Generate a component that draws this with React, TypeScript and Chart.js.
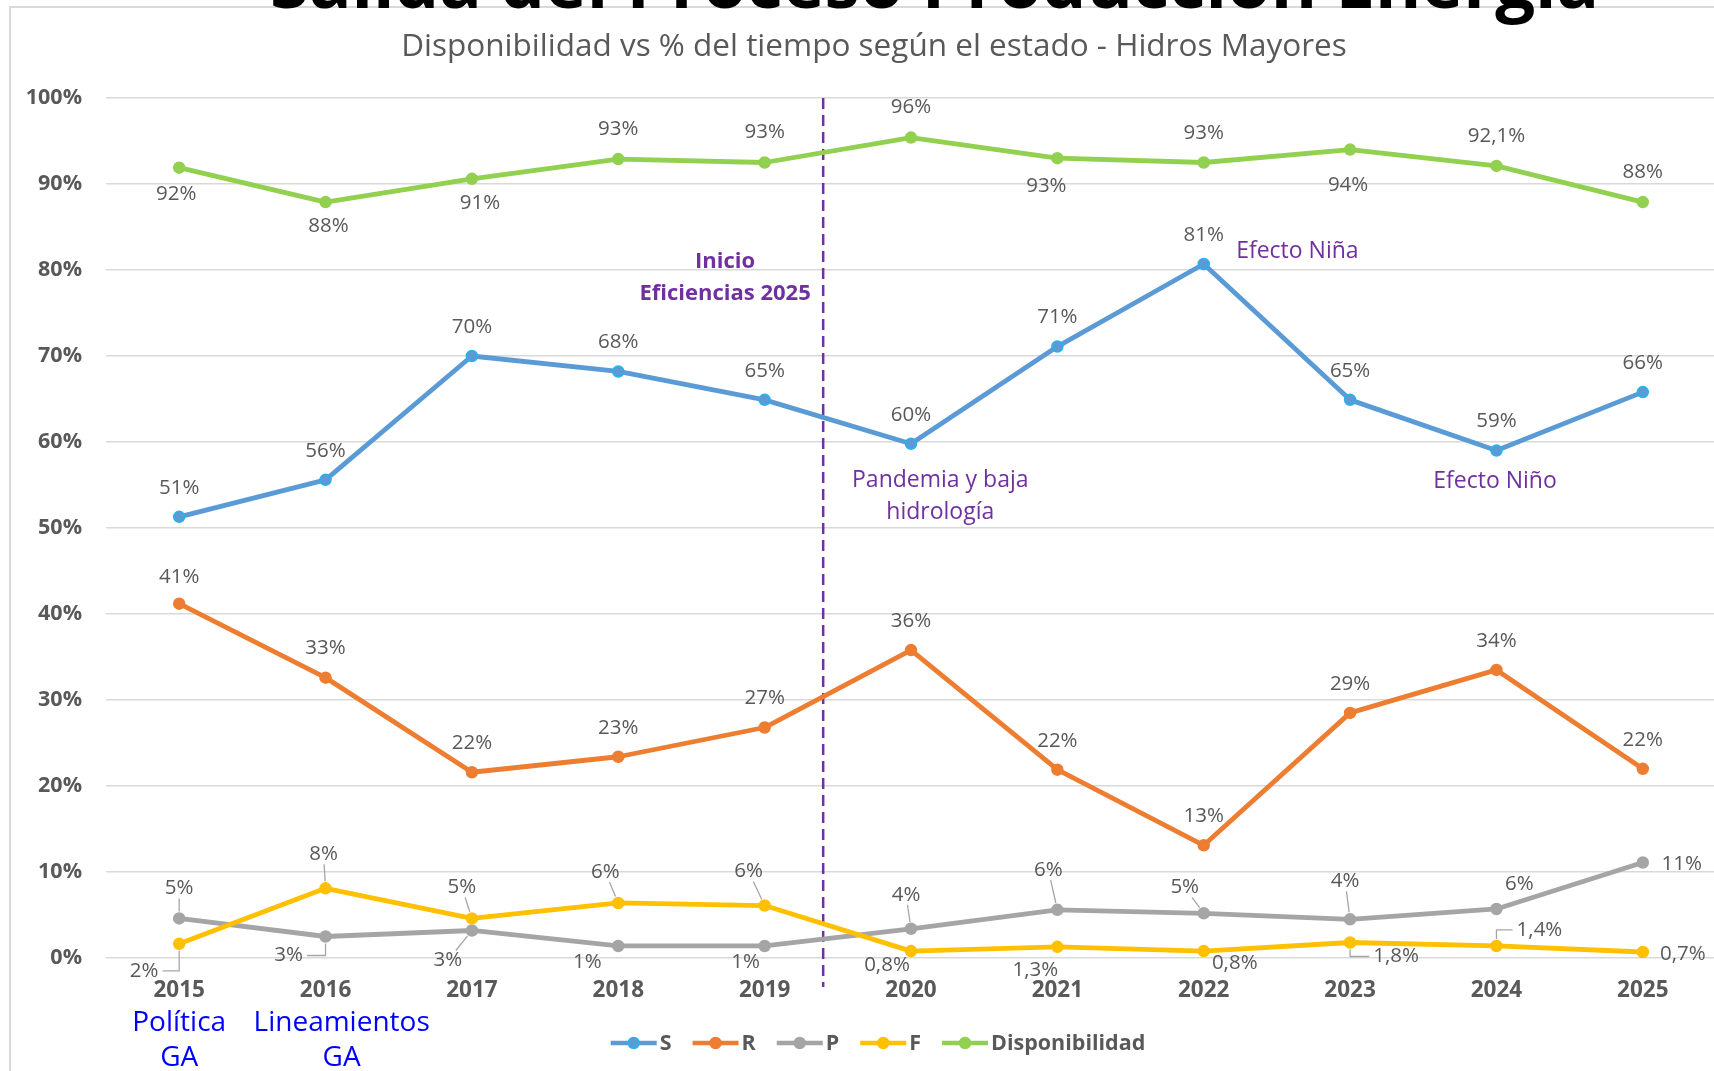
import React, { useEffect, useRef } from "react";
import { Chart, registerables } from "chart.js";

Chart.register(...registerables);

// ---------------- DATA ----------------
const years = ["2015", "2016", "2017", "2018", "2019", "2020", "2021", "2022", "2023", "2024", "2025"];

const sValues = [51.3, 55.6, 70.0, 68.2, 64.9, 59.8, 71.1, 80.7, 64.9, 59.0, 65.8];
const rValues = [41.2, 32.6, 21.6, 23.4, 26.8, 35.8, 21.9, 13.1, 28.5, 33.5, 22.0];
const pValues = [4.6, 2.5, 3.2, 1.4, 1.4, 3.4, 5.6, 5.2, 4.5, 5.7, 11.1];
const fValues = [1.65, 8.1, 4.6, 6.4, 6.1, 0.8, 1.3, 0.8, 1.8, 1.4, 0.7];
const dispValues = [91.9, 87.9, 90.6, 92.9, 92.5, 95.4, 93.0, 92.5, 94.0, 92.1, 87.9];

const sLabels = ["51%", "56%", "70%", "68%", "65%", "60%", "71%", "81%", "65%", "59%", "66%"];
const rLabels = ["41%", "33%", "22%", "23%", "27%", "36%", "22%", "13%", "29%", "34%", "22%"];
const pLabels = ["5%", "3%", "3%", "1%", "1%", "4%", "6%", "5%", "4%", "6%", "11%"];
const fLabels = ["2%", "8%", "5%", "6%", "6%", "0,8%", "1,3%", "0,8%", "1,8%", "1,4%", "0,7%"];
const dispLabels = ["92%", "88%", "91%", "93%", "93%", "96%", "93%", "93%", "94%", "92,1%", "88%"];

const seriesNames = ["S", "R", "P", "F", "Disponibilidad"];
const yTickValues = [0, 10, 20, 30, 40, 50, 60, 70, 80, 90, 100];

const pageTitle = "Salida del Proceso Producción Energía";
const chartTitle = "Disponibilidad vs % del tiempo según el estado - Hidros Mayores";

// event marker (between 2019 and 2020) and annotation texts, in chart coordinates
const markerIndex = 4.4;
const markerTexts = [
  { lines: ["Inicio", "Eficiencias 2025"], idx: 3.73, val: [81.0, 77.2], bold: true },
  { lines: ["Pandemia y baja", "hidrología"], idx: 5.2, val: [55.5, 51.8], bold: false },
  { lines: ["Efecto Niña"], idx: 7.64, val: [82.1], bold: false },
  { lines: ["Efecto Niño"], idx: 8.99, val: [55.4], bold: false },
];
const axisNotes = [
  { lines: ["Política", "GA"], idx: 0 },
  { lines: ["Lineamientos", "GA"], idx: 1.11 },
];

// ---------------- STYLE / LAYOUT ----------------
const FONT = "'Open Sans', 'Noto Sans', 'DejaVu Sans', sans-serif";
const TEXT_GRAY = "#595959";
const PURPLE = "#7030A0";
const colors = ["#5B9BD5", "#ED7D31", "#A5A5A5", "#FFC000", "#92D050"];
const pointBorders = ["#27B2EE", "#ED7D31", "#A5A5A5", "#FFC000", "#92D050"];

type Off = [number, number, string];
// label offsets (dx, dy from point, leader kind)
const sOffsets: Off[] = years.map(() => [0, -29, "none"]);
const rOffsets: Off[] = years.map((_, i) => [0, i === 0 ? -27 : -29, "none"]);
const pOffsets: Off[] = [
  [0, -30, "line"], [-37, 19, "elbow"], [-24, 30, "line"], [-31, 16, "none"], [-19, 16, "none"],
  [-5, -34, "line"], [-9, -40, "line"], [-19, -26, "line"], [-5, -38, "line"], [23, -25, "none"], [39, 2, "none"],
];
const fOffsets: Off[] = [
  [-35, 27, "elbow"], [-2, -34, "line"], [-10, -31, "line"], [-13, -31, "line"], [-16, -34, "line"],
  [-24, 14, "none"], [-22, 23, "none"], [31, 12, "none"], [46, 14, "elbow"], [43, -16, "elbow"], [40, 2, "none"],
];
const dispOffsets: Off[] = [
  [-3, 26, "none"], [3, 24, "none"], [8, 24, "none"], [0, -30, "none"], [0, -30, "none"],
  [0, -30, "none"], [-11, 28, "none"], [0, -29, "none"], [-2, 36, "none"], [0, -30, "none"], [0, -30, "none"],
];

const allLabels = [sLabels, rLabels, pLabels, fLabels, dispLabels];
const allOffsets = [sOffsets, rOffsets, pOffsets, fOffsets, dispOffsets];

function drawLeader(ctx: CanvasRenderingContext2D, px: number, py: number, lx: number, ly: number, hw: number, hh: number, kind: string) {
  if (kind === "none") return;
  const r = 7;
  ctx.save();
  ctx.strokeStyle = "#A6A6A6";
  ctx.lineWidth = 1.3;
  ctx.beginPath();
  if (kind === "line") {
    const dx = px - lx;
    const dy = py - ly;
    const len = Math.hypot(dx, dy);
    const t = Math.min(dx !== 0 ? hw / Math.abs(dx) : Infinity, dy !== 0 ? hh / Math.abs(dy) : Infinity);
    const ex = lx + dx * t;
    const ey = ly + dy * t;
    const sx = px - (dx / len) * r;
    const sy = py - (dy / len) * r;
    ctx.moveTo(ex, ey);
    ctx.lineTo(sx, sy);
  } else {
    const sideX = px > lx ? lx + hw + 2 : lx - hw - 2;
    ctx.moveTo(sideX, ly);
    ctx.lineTo(px, ly);
    ctx.lineTo(px, py + (ly > py ? r : -r));
  }
  ctx.stroke();
  ctx.restore();
}

const customPlugin = {
  id: "customDraw",
  beforeDraw(chart: any) {
    const ctx: CanvasRenderingContext2D = chart.ctx;
    ctx.save();
    ctx.fillStyle = "#ffffff";
    ctx.fillRect(0, 0, chart.width, chart.height);
    // outer chart box border
    ctx.strokeStyle = "#D9D9D9";
    ctx.lineWidth = 2;
    ctx.beginPath();
    ctx.moveTo(10, chart.height);
    ctx.lineTo(10, 7);
    ctx.lineTo(chart.width, 7);
    ctx.stroke();
    // clipped slide title
    ctx.fillStyle = "#000000";
    ctx.font = `bold 64px ${FONT}`;
    ctx.textAlign = "left";
    ctx.textBaseline = "alphabetic";
    const w = ctx.measureText(pageTitle).width;
    const target = 1330;
    const size = 64 * (target / w);
    ctx.font = `bold ${size.toFixed(1)}px ${FONT}`;
    ctx.fillText(pageTitle, 270, 8);
    // chart title
    ctx.fillStyle = TEXT_GRAY;
    ctx.font = `31.5px ${FONT}`;
    ctx.textAlign = "center";
    ctx.textBaseline = "middle";
    ctx.fillText(chartTitle, 874, 47);
    ctx.restore();
  },
  beforeDatasetsDraw(chart: any) {
    const ctx: CanvasRenderingContext2D = chart.ctx;
    const xs = chart.scales.x;
    const ys = chart.scales.y;
    const x0 = xs.getPixelForValue(Math.floor(markerIndex));
    const x1 = xs.getPixelForValue(Math.floor(markerIndex) + 1);
    const mx = x0 + (x1 - x0) * (markerIndex - Math.floor(markerIndex));
    ctx.save();
    ctx.strokeStyle = PURPLE;
    ctx.lineWidth = 2.5;
    ctx.setLineDash([11, 6]);
    ctx.beginPath();
    ctx.moveTo(mx, ys.getPixelForValue(100));
    ctx.lineTo(mx, chart.chartArea.bottom + 29);
    ctx.stroke();
    ctx.restore();
  },
  afterDatasetsDraw(chart: any) {
    const ctx: CanvasRenderingContext2D = chart.ctx;
    const xs = chart.scales.x;
    const ys = chart.scales.y;
    ctx.save();
    ctx.font = `20.5px ${FONT}`;
    ctx.textAlign = "center";
    ctx.textBaseline = "middle";
    chart.data.datasets.forEach((ds: any, di: number) => {
      const meta = chart.getDatasetMeta(di);
      meta.data.forEach((pt: any, i: number) => {
        const [dx, dy, kind] = allOffsets[di][i];
        const text = allLabels[di][i];
        const lx = pt.x + dx;
        const ly = pt.y + dy;
        const tw = ctx.measureText(text).width;
        drawLeader(ctx, pt.x, pt.y, lx, ly, tw / 2 + 2, 10, kind);
        ctx.fillStyle = TEXT_GRAY;
        ctx.fillText(text, lx, ly);
      });
    });
    // purple annotations
    const step = xs.getPixelForValue(1) - xs.getPixelForValue(0);
    const px = (idx: number) => xs.getPixelForValue(0) + idx * step;
    ctx.fillStyle = PURPLE;
    markerTexts.forEach((m) => {
      ctx.font = m.bold ? `bold 22px ${FONT}` : `23px ${FONT}`;
      m.lines.forEach((line, k) => {
        ctx.fillText(line, px(m.idx), ys.getPixelForValue(m.val[k]));
      });
    });
    ctx.restore();
  },
  afterDraw(chart: any) {
    const ctx: CanvasRenderingContext2D = chart.ctx;
    const xs = chart.scales.x;
    ctx.save();
    // blue notes under axis
    const step = xs.getPixelForValue(1) - xs.getPixelForValue(0);
    ctx.fillStyle = "#0000FF";
    ctx.font = `28px ${FONT}`;
    ctx.textAlign = "center";
    ctx.textBaseline = "middle";
    axisNotes.forEach((n) => {
      const x = xs.getPixelForValue(0) + n.idx * step;
      n.lines.forEach((line, k) => ctx.fillText(line, x, 1023 + k * 35));
    });
    // legend
    ctx.font = `bold 21.5px ${FONT}`;
    const lineLen = 46;
    const gapText = 3;
    const gapItem = 21;
    const items = chart.data.datasets.map((ds: any) => ({ label: ds.label, color: ds.borderColor, pb: ds.pointBorderColor, w: ctx.measureText(ds.label).width }));
    const total = items.reduce((a: number, it: any) => a + lineLen + gapText + it.w, 0) + gapItem * (items.length - 1);
    let x = 878 - total / 2;
    const y = 1043;
    ctx.textAlign = "left";
    items.forEach((it: any) => {
      ctx.strokeStyle = it.color;
      ctx.lineWidth = 4.5;
      ctx.beginPath();
      ctx.moveTo(x, y);
      ctx.lineTo(x + lineLen, y);
      ctx.stroke();
      ctx.beginPath();
      ctx.arc(x + lineLen / 2, y, 5.5, 0, Math.PI * 2);
      ctx.fillStyle = it.color;
      ctx.fill();
      ctx.lineWidth = 1.5;
      ctx.strokeStyle = it.pb;
      ctx.stroke();
      ctx.fillStyle = TEXT_GRAY;
      ctx.fillText(it.label, x + lineLen + gapText, y + 1);
      x += lineLen + gapText + it.w + gapItem;
    });
    ctx.restore();
  },
};

export default function App() {
  const ref = useRef<HTMLCanvasElement>(null);
  useEffect(() => {
    if (!ref.current) return;
    const values = [sValues, rValues, pValues, fValues, dispValues];
    const chart = new Chart(ref.current, {
      type: "line",
      data: {
        labels: years,
        datasets: values.map((v, i) => ({
          label: seriesNames[i],
          data: v,
          borderColor: colors[i],
          backgroundColor: colors[i],
          pointBackgroundColor: colors[i],
          pointBorderColor: pointBorders[i],
          pointBorderWidth: 1.5,
          pointRadius: 5.5,
          borderWidth: 4.8,
          borderCapStyle: "round",
          borderJoinStyle: "round",
          tension: 0,
          fill: false,
          order: 5 - i,
        })),
      },
      options: {
        responsive: false,
        animation: false,
        devicePixelRatio: 1,
        layout: { padding: { top: 98, right: 14, bottom: 0, left: 0 } },
        plugins: {
          legend: { display: false },
          title: { display: false },
          tooltip: { enabled: false },
        },
        scales: {
          x: {
            type: "category",
            offset: true,
            grid: { display: false, drawTicks: false },
            border: { display: false },
            ticks: {
              padding: 19,
              color: TEXT_GRAY,
              font: { family: FONT, size: 22.5, weight: "bold" },
              maxRotation: 0,
              autoSkip: false,
            },
            afterFit: (s: any) => {
              s.height = 113;
            },
          },
          y: {
            min: 0,
            max: 100,
            afterBuildTicks: (s: any) => {
              s.ticks = yTickValues.map((v) => ({ value: v }));
            },
            ticks: {
              padding: 24,
              color: TEXT_GRAY,
              font: { family: FONT, size: 21.5, weight: "bold" },
              callback: (v: any) => `${v}%`,
            },
            grid: { color: "#D9D9D9", lineWidth: 1.5, drawTicks: false },
            border: { display: false },
            afterFit: (s: any) => {
              s.width = 106;
            },
          },
        },
      } as any,
      plugins: [customPlugin],
    });
    return () => chart.destroy();
  }, []);
  return (
    <div style={{ position: "fixed", left: 0, top: 0, width: 1714, height: 1071, overflow: "hidden", background: "#fff" }}>
      <canvas ref={ref} width={1730} height={1071} style={{ width: 1730, height: 1071, display: "block" }} />
    </div>
  );
}
